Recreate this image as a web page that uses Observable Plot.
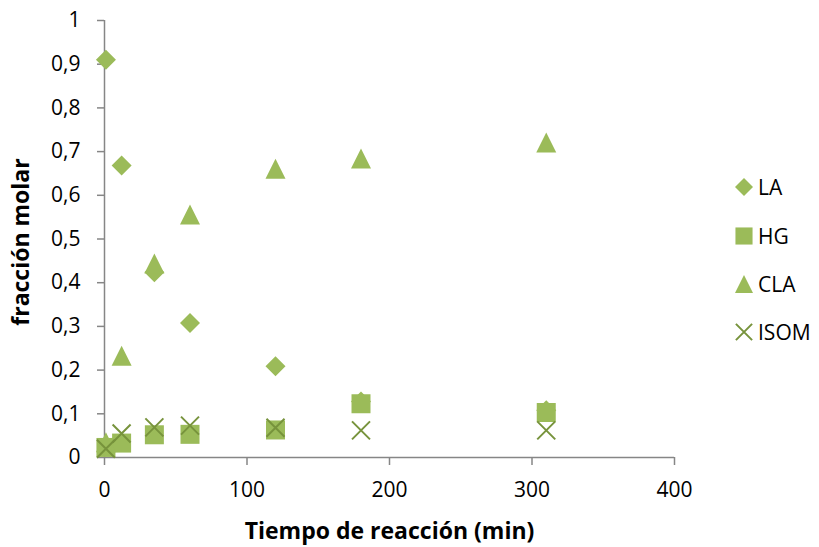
<!DOCTYPE html>
<html>
<head>
<meta charset="utf-8">
<script src="https://cdn.jsdelivr.net/npm/d3@7"></script>
<script src="https://cdn.jsdelivr.net/npm/@observablehq/plot@0.6"></script>
<style>
  body { margin: 0; background: #fff; }
  #wrap { position: relative; width: 819px; height: 547px; font-family: "Open Sans", sans-serif; }
  #legend { position: absolute; left: 733px; top: 163px; }
  .item { display: flex; align-items: center; height: 48.4px; font-size: 21px; color: #000; }
  .item svg { margin-right: 3px; }
</style>
</head>
<body>
<div id="wrap"></div>
<script>
// ---- data ----
const times = [1, 12, 35, 60, 120, 180, 310];
const seriesNames = ["LA", "HG", "CLA", "ISOM"];
const LA   = [0.91, 0.668, 0.424, 0.308, 0.209, 0.128, 0.108];
const HG   = [0.023, 0.033, 0.052, 0.053, 0.063, 0.123, 0.103];
const CLA  = [0.035, 0.233, 0.444, 0.556, 0.661, 0.684, 0.721];
const ISOM = [0.02, 0.055, 0.069, 0.073, 0.068, 0.062, 0.062];
const xTicks = [0, 100, 200, 300, 400];
const yTicks = [0, 0.1, 0.2, 0.3, 0.4, 0.5, 0.6, 0.7, 0.8, 0.9, 1];
const xLabel = "Tiempo de reacción (min)";
const yLabel = "fracción molar";

// ---- styling ----
const green = "#9BBB59";
const darkGreen = "#77933C";
const axisGray = "#868686";

// Excel-like marker shapes; half-size = r
const half = size => Math.sqrt(size / Math.PI);
const symDiamond = { draw(c, s) { const h = half(s); c.moveTo(0, -h); c.lineTo(h, 0); c.lineTo(0, h); c.lineTo(-h, 0); c.closePath(); } };
const symSquare  = { draw(c, s) { const h = half(s); c.moveTo(-h, -h); c.lineTo(h, -h); c.lineTo(h, h); c.lineTo(-h, h); c.closePath(); } };
const symTri     = { draw(c, s) { const h = half(s); c.moveTo(0, -h); c.lineTo(h, h); c.lineTo(-h, h); c.closePath(); } };
const symTimes   = { draw(c, s) { const h = half(s); c.moveTo(-h, -h); c.lineTo(h, h); c.moveTo(h, -h); c.lineTo(-h, h); } };

const styles = {
  LA:   { symbol: symDiamond, r: 10,  fill: green, stroke: "none" },
  HG:   { symbol: symSquare,  r: 9.5, fill: green, stroke: "none" },
  CLA:  { symbol: symTri,     r: 10,  fill: green, stroke: "none" },
  ISOM: { symbol: symTimes,   r: 9,   fill: "none", stroke: darkGreen, strokeWidth: 2 }
};
const values = { LA, HG, CLA, ISOM };
const toRows = name => times.map((t, i) => ({ t, v: values[name][i] }));

const fmt = d => String(d).replace(".", ",");

const chart = Plot.plot({
  width: 819,
  height: 547,
  marginLeft: 104,
  marginRight: 145,
  marginTop: 20,
  marginBottom: 90,
  style: { fontFamily: "Open Sans, sans-serif", fontSize: "21px", color: "#000", background: "#fff" },
  x: { domain: [0, 400] },
  y: { domain: [0, 1] },
  marks: [
    Plot.axisY({ ticks: yTicks, tickSize: 7, tickPadding: 17, stroke: axisGray, strokeWidth: 1.5, fill: "#000", fontSize: 21, tickFormat: fmt, label: null }),
    Plot.axisX({ ticks: xTicks, tickSize: 8, tickPadding: 17, stroke: axisGray, strokeWidth: 1.5, fill: "#000", fontSize: 21, tickFormat: d => String(d), label: null }),
    Plot.ruleX([0], { stroke: axisGray, strokeWidth: 1.5 }),
    Plot.ruleY([0], { stroke: axisGray, strokeWidth: 1.5 }),
    ...seriesNames.map(name => Plot.dot(toRows(name), { x: "t", y: "v", ...styles[name] })),
    Plot.text([xLabel], { frameAnchor: "bottom", lineAnchor: "bottom", textAnchor: "middle", dy: 81, fontWeight: "bold", fontSize: 23, fill: "#000" }),
    Plot.text([yLabel], { frameAnchor: "left", lineAnchor: "middle", textAnchor: "middle", dx: -83, dy: 3, rotate: -90, fontWeight: "bold", fontSize: 23, fill: "#000" })
  ]
});

const wrap = document.getElementById("wrap");
wrap.appendChild(chart);

// legend
const legend = document.createElement("div");
legend.id = "legend";
for (const name of seriesNames) {
  const st = styles[name];
  const item = document.createElement("div");
  item.className = "item";
  const svg = d3.create("svg").attr("width", 22).attr("height", 22);
  svg.append("path")
    .attr("transform", "translate(11,11)")
    .attr("d", d3.symbol(st.symbol, Math.PI * (st.r * 0.9) ** 2)())
    .attr("fill", st.fill)
    .attr("stroke", st.stroke)
    .attr("stroke-width", st.strokeWidth || 0);
  item.appendChild(svg.node());
  const span = document.createElement("span");
  span.textContent = name;
  item.appendChild(span);
  legend.appendChild(item);
}
wrap.appendChild(legend);
</script>
</body>
</html>
